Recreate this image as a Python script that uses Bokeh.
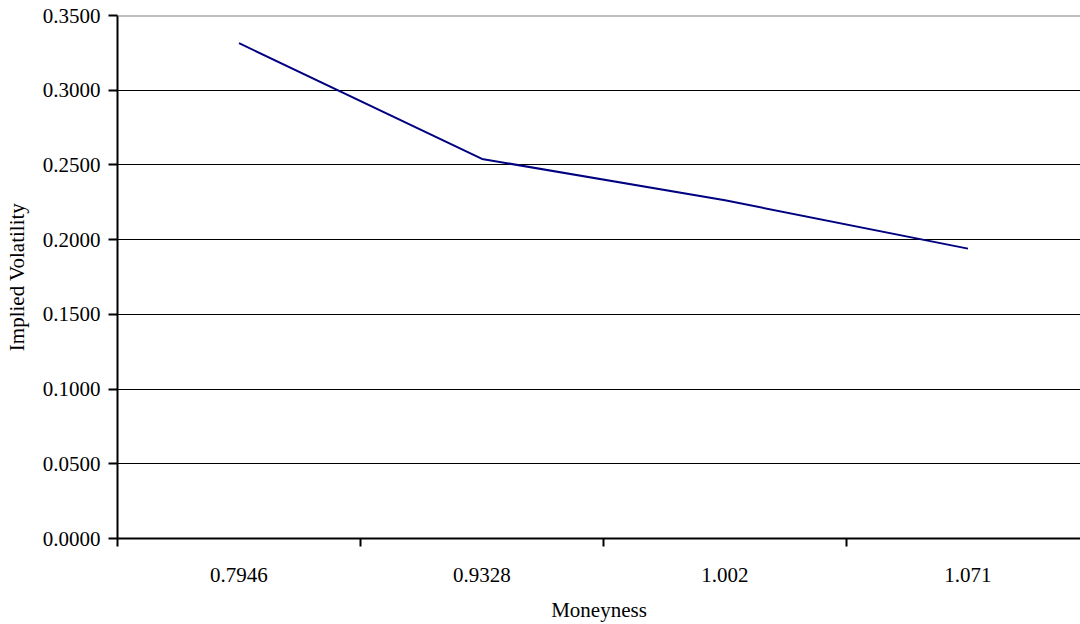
from bokeh.plotting import figure
from bokeh.models import FixedTicker, NumeralTickFormatter, Range1d, Span
from bokeh.embed import file_html
from bokeh.resources import INLINE

# Implied volatility smile (skew) across moneyness buckets
moneyness = ["0.7946", "0.9328", "1.002", "1.071"]
implied_vol = [0.3315, 0.2540, 0.2263, 0.1940]
y_ticks = [0.0, 0.05, 0.10, 0.15, 0.20, 0.25, 0.30, 0.35]

FONT = "Liberation Serif"

xs = list(range(len(moneyness)))

p = figure(
    width=1080, height=624,
    output_backend="svg", toolbar_location=None,
    x_range=Range1d(-0.5, 3.463), y_range=Range1d(0, 0.35),
    min_border_left=117, min_border_right=0,
    min_border_top=15, min_border_bottom=84,
)
p.outline_line_color = None
p.background_fill_color = "white"
p.border_fill_color = "white"

p.line(xs, implied_vol, line_color="#000080", line_width=2)

# top edge of the plot area
p.add_layout(Span(location=y_ticks[-1], dimension="width",
                  line_color="#808080", line_width=2))

# x axis: labels at category centres, tick marks at category boundaries
xa = p.xaxis[0]
xa.ticker = FixedTicker(ticks=xs, minor_ticks=[-0.5, 0.5, 1.5, 2.5])
xa.major_label_overrides = {i: m for i, m in enumerate(moneyness)}
xa.major_tick_out = 0
xa.major_tick_in = 0
xa.minor_tick_out = 8
xa.minor_tick_in = 0
xa.minor_tick_line_color = "black"
xa.minor_tick_line_width = 2
xa.axis_line_width = 2
xa.axis_line_color = "black"
xa.major_label_standoff = 21
xa.axis_label = "Moneyness"
xa.axis_label_standoff = 13

# y axis
ya = p.yaxis[0]
ya.ticker = FixedTicker(ticks=y_ticks)
ya.formatter = NumeralTickFormatter(format="0.0000")
ya.major_tick_out = 9
ya.major_tick_in = 0
ya.major_tick_line_width = 2
ya.major_tick_line_color = "black"
ya.minor_tick_line_color = None
ya.axis_line_width = 2
ya.axis_line_color = "black"
ya.major_label_standoff = 8
ya.axis_label = "Implied Volatility"
ya.axis_label_standoff = 11

for ax in (xa, ya):
    ax.major_label_text_font = FONT
    ax.major_label_text_font_size = "21px"
    ax.major_label_text_color = "black"
    ax.axis_label_text_font = FONT
    ax.axis_label_text_font_size = "21px"
    ax.axis_label_text_font_style = "normal"
    ax.axis_label_text_color = "black"

p.xgrid.grid_line_color = None
p.ygrid.ticker = FixedTicker(ticks=y_ticks)
p.ygrid.grid_line_color = "black"
p.ygrid.grid_line_width = 1

open("out.html", "w").write(file_html(p, INLINE))
